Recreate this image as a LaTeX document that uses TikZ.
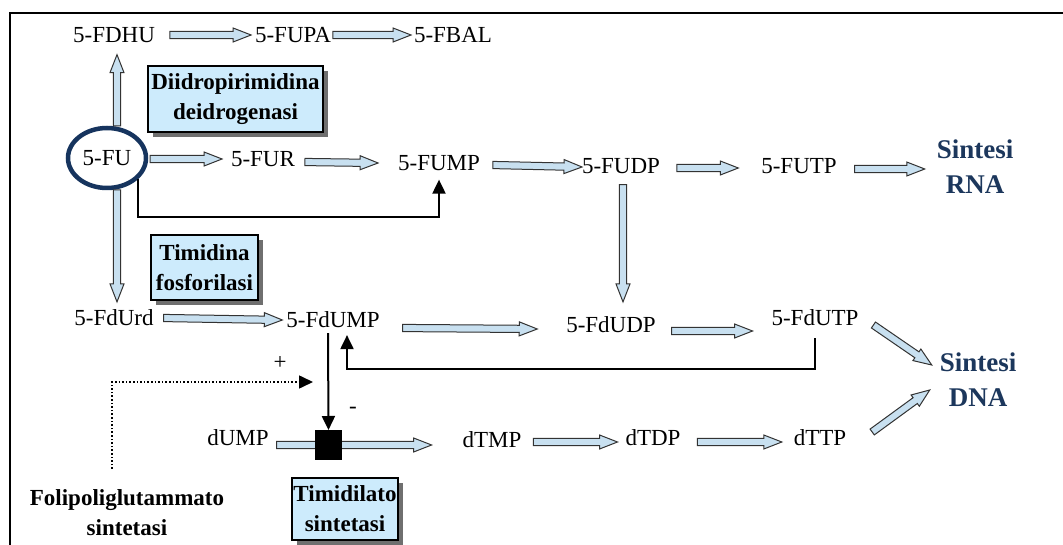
\documentclass[tikz,border=0pt]{standalone}
\usepackage{fontspec}
\setmainfont{Liberation Serif}
\usetikzlibrary{calc,shapes.geometric,arrows.meta,shadows}

\definecolor{navy}{RGB}{22,52,94}
\definecolor{sintcol}{RGB}{28,55,92}
\definecolor{arrfill}{RGB}{200,224,240}
\definecolor{boxfill}{RGB}{205,235,252}

\newcommand\fatarrow[2]{%
  \coordinate (faA) at (#1);
  \coordinate (faB) at (#2);
  \coordinate (faC) at ($(faB)!18pt!(faA)$);
  \draw[fatarr] ($(faA)!3.6pt!90:(faB)$) -- ($(faC)!3.6pt!90:(faB)$) --
    ($(faC)!7pt!90:(faB)$) -- (faB) -- ($(faC)!7pt!-90:(faB)$) --
    ($(faC)!3.6pt!-90:(faB)$) -- ($(faA)!3.6pt!-90:(faB)$) -- cycle;}

\begin{document}
\begin{tikzpicture}[x=1pt,y=-1pt,
  txt/.style={inner sep=0pt,outer sep=0pt,font=\fontsize{23}{27}\selectfont},
  ebox/.style={draw=black,line width=2.2pt,fill=boxfill,align=center,inner sep=0pt,
    font=\bfseries\fontsize{23}{30}\selectfont,
    drop shadow={shadow xshift=5pt,shadow yshift=-5pt,fill=black!70,opacity=0.8}},
  plainbold/.style={inner sep=0pt,outer sep=0pt,align=center,font=\bfseries\fontsize{23}{30}\selectfont},
  sint/.style={inner sep=0pt,outer sep=0pt,align=center,text=sintcol,font=\bfseries\fontsize{27}{35}\selectfont},
  fatarr/.style={fill=arrfill,draw=black!80,line width=1pt,line join=miter},
  blk/.style={draw=black,line width=2pt,-{Triangle[length=14pt,width=13pt]}},
  dotblk/.style={draw=black,line width=1.6pt,dotted,-{Triangle[length=14pt,width=13pt]}},
  sqbox/.style={fill=black,minimum width=27pt,minimum height=30pt,inner sep=0pt,outer sep=0pt},
  fuell/.style={ellipse,draw=navy,line width=4.5pt,minimum width=78pt,minimum height=60pt,inner sep=0pt,outer sep=0pt,font=\fontsize{23}{27}\selectfont}
]
\useasboundingbox (0,0) rectangle (1063,545);
\fill[white] (0,0) rectangle (1063,545);
% frame
\draw[line width=2pt] (10,545) |- (1063,13);

% row 1
\node[txt] (fdhu) at (114,35) {5-FDHU};
\node[txt] (fupa) at (293,35) {5-FUPA};
\node[txt] (fbal) at (453,35) {5-FBAL};
% row 2
\node[fuell] (fu) at (107,158) {5-FU};
\node[txt] (fur) at (263,159) {5-FUR};
\node[txt] (fump) at (439,163) {5-FUMP};
\node[txt] (fudp) at (621,166) {5-FUDP};
\node[txt] (futp) at (799,166) {5-FUTP};
\node[sint] (rna) at (975,167) {Sintesi\\RNA};
% row 3
\node[txt] (fdurd) at (114,318) {5-FdUrd};
\node[txt] (fdump) at (333,320) {5-FdUMP};
\node[txt] (fdudp) at (611,325) {5-FdUDP};
\node[txt] (fdutp) at (815,318) {5-FdUTP};
\node[sint] (dna) at (978,380) {Sintesi\\DNA};
% row 4
\node[txt] (dump) at (238,438) {dUMP};
\node[txt] (dtmp) at (492,440) {dTMP};
\node[txt] (dtdp) at (653,438) {dTDP};
\node[txt] (dttp) at (820,438) {dTTP};

% enzyme boxes
\node[ebox,minimum width=175pt,minimum height=66pt] (dpd) at (235.5,99) {Diidropirimidina\\deidrogenasi};
\node[ebox,minimum width=107pt,minimum height=65pt] (tf) at (204.5,267.5) {Timidina\\fosforilasi};
\node[ebox,minimum width=106pt,minimum height=62pt] (ts) at (345,509) {Timidilato\\sintetasi};
\node[plainbold] (fpgs) at (127,513) {Folipoliglutammato\\sintetasi};

% hollow arrows
\fatarrow{[xshift=15pt]fdhu.east}{[xshift=-4pt]fupa.west}
\fatarrow{[xshift=2pt]fupa.east}{[xshift=-3pt]fbal.west}
\fatarrow{[xshift=10pt,yshift=2pt]fu.north}{[xshift=3pt,yshift=-12pt]fdhu.south}
\fatarrow{[xshift=4pt,yshift=-1pt]fu.east}{[xshift=-9pt]fur.west}
\fatarrow{[xshift=10pt,yshift=-3pt]fur.east}{[xshift=-20pt]fump.west}
\fatarrow{[xshift=13pt,yshift=-2pt]fump.east}{[yshift=-1pt]fudp.west}
\fatarrow{[xshift=17pt,yshift=-2pt]fudp.east}{[xshift=-23pt,yshift=-2pt]futp.west}
\fatarrow{[xshift=18pt,yshift=-3pt]futp.east}{[xshift=-12pt,yshift=-2pt]rna.west}
\fatarrow{[xshift=2pt,yshift=-11pt]fudp.south}{[xshift=12pt,yshift=15pt]fdudp.north}
\fatarrow{[xshift=10pt,yshift=-2pt]fu.south}{[xshift=3pt,yshift=8pt]fdurd.north}
\fatarrow{[xshift=10pt]fdurd.east}{[xshift=-4pt]fdump.west}
\fatarrow{[xshift=23pt,yshift=-8pt]fdump.east}{[xshift=-29pt,yshift=-4pt]fdudp.west}
\fatarrow{[xshift=16pt,yshift=-6pt]fdudp.east}{[xshift=-19pt,yshift=-13pt]fdutp.west}
\fatarrow{[xshift=15pt,yshift=-7pt]fdutp.east}{[xshift=-8pt,yshift=15pt]dna.west}
\fatarrow{[xshift=26pt,yshift=6pt]dttp.east}{[xshift=-10pt,yshift=-10pt]dna.west}
\fatarrow{[xshift=8pt,yshift=-7pt]dump.east}{[xshift=-31pt,yshift=-5pt]dtmp.west}
\fatarrow{[xshift=12pt,yshift=-2pt]dtmp.east}{[xshift=-8pt,yshift=-4pt]dtdp.west}
\fatarrow{[xshift=17pt,yshift=-4pt]dtdp.east}{[xshift=-12pt,yshift=-4pt]dttp.west}

% black connectors
\draw[blk] ([xshift=3pt]fu.south east) |- ([yshift=-46pt]fump.south) -- ([yshift=-9pt]fump.south);
\draw[blk] ([yshift=-12pt]fdutp.south) |- ([xshift=14pt,yshift=-41pt]fdump.south) -- ([xshift=14pt,yshift=-7pt]fdump.south);

\node[sqbox] (sq) at (328.5,445) {};
\draw[blk] ([xshift=-5pt,yshift=-5pt]fdump.south) -- (sq.north);
\draw[dotblk] ([xshift=-15pt,yshift=21pt]fpgs.north) |- ([xshift=-2pt,yshift=63pt]sq.west);

\node[txt] (plus) at (280,363) {+};
\node[txt] (minus) at (353,410) {-};
\end{tikzpicture}
\end{document}
